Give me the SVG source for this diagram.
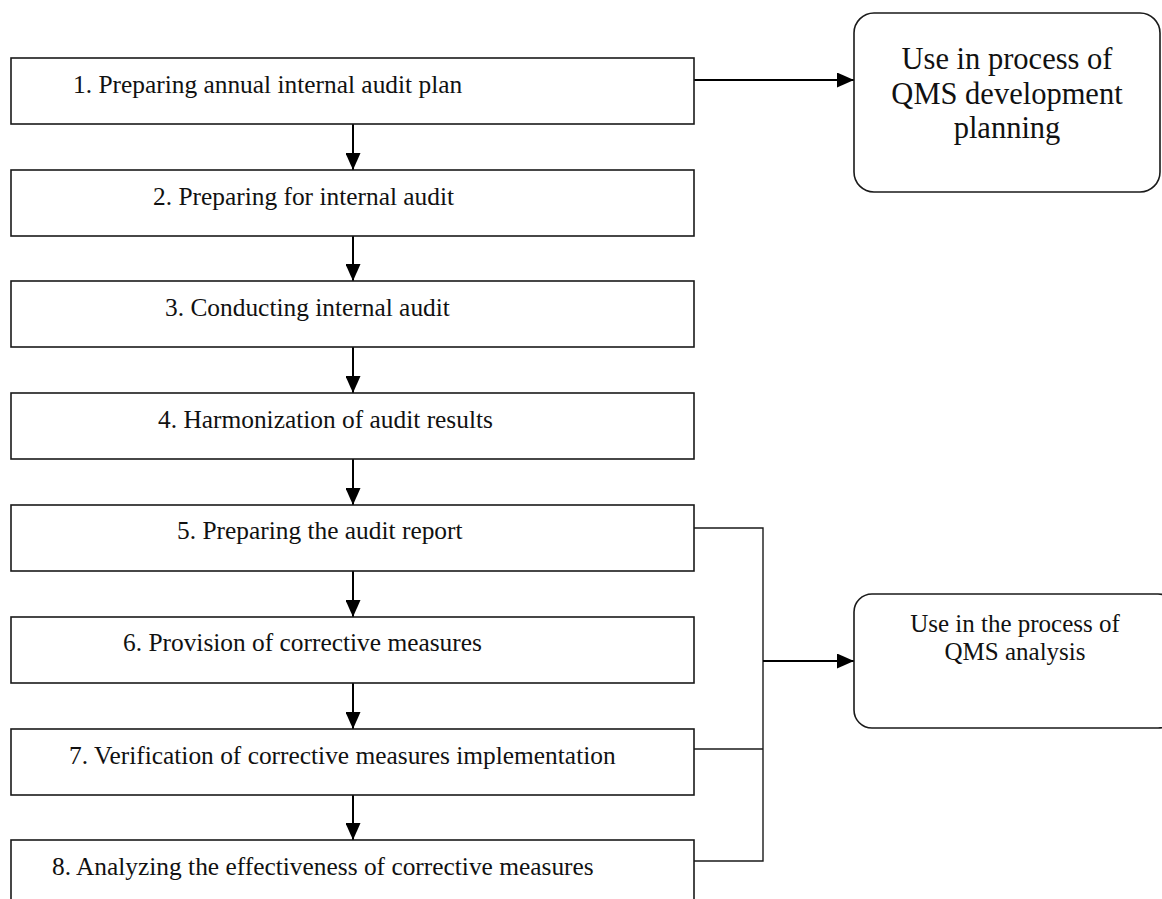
<svg xmlns="http://www.w3.org/2000/svg" width="1162" height="899" viewBox="0 0 1162 899">
<style>
.step{fill:#fff;stroke:#1a1a1a;stroke-width:1.6}
.out{fill:#fff;stroke:#1a1a1a;stroke-width:1.6}
.t{font-family:"Liberation Serif","Times New Roman",serif;font-size:25.4px;fill:#111}
.big{font-family:"Liberation Serif","Times New Roman",serif;font-size:30.5px;fill:#111;text-anchor:middle}
.mid{font-family:"Liberation Serif","Times New Roman",serif;font-size:25px;fill:#111;text-anchor:middle}
.arr{fill:none;stroke:#000;stroke-width:2;marker-end:url(#ah)}
.thin{fill:none;stroke:#1a1a1a;stroke-width:1.4}
</style>
<defs>
<marker id="ah" markerUnits="userSpaceOnUse" markerWidth="17" markerHeight="15" refX="17" refY="7.5" orient="auto">
<path d="M0,0 L17,7.5 L0,15 z" fill="#000"/>
</marker>
</defs>
<rect width="1162" height="899" fill="#fff"/>
<g id="connectors">
<line class="arr" x1="353" y1="124" x2="353" y2="170"/>
<line class="arr" x1="353" y1="236" x2="353" y2="281"/>
<line class="arr" x1="353" y1="347" x2="353" y2="393"/>
<line class="arr" x1="353" y1="459" x2="353" y2="505"/>
<line class="arr" x1="353" y1="571" x2="353" y2="617"/>
<line class="arr" x1="353" y1="683" x2="353" y2="729"/>
<line class="arr" x1="353" y1="795" x2="353" y2="840"/>
<line class="arr" x1="694" y1="80" x2="854" y2="80"/>
<polyline class="thin" points="694,528 763,528 763,861 694,861"/>
<line class="thin" x1="694" y1="749" x2="763" y2="749"/>
<line class="arr" x1="763" y1="661" x2="854" y2="661"/>
</g>
<g id="step1"><rect class="step" x="11" y="58" width="683" height="66"/><text class="t" x="73" y="93">1. Preparing annual internal audit plan</text></g>
<g id="step2"><rect class="step" x="11" y="170" width="683" height="66"/><text class="t" x="153" y="205">2. Preparing for internal audit</text></g>
<g id="step3"><rect class="step" x="11" y="281" width="683" height="66"/><text class="t" x="165" y="316">3. Conducting internal audit</text></g>
<g id="step4"><rect class="step" x="11" y="393" width="683" height="66"/><text class="t" x="158" y="428">4. Harmonization of audit results</text></g>
<g id="step5"><rect class="step" x="11" y="505" width="683" height="66"/><text class="t" x="177" y="539">5. Preparing the audit report</text></g>
<g id="step6"><rect class="step" x="11" y="617" width="683" height="66"/><text class="t" x="123" y="651">6. Provision of corrective measures</text></g>
<g id="step7"><rect class="step" x="11" y="729" width="683" height="66"/><text class="t" x="69" y="764">7. Verification of corrective measures implementation</text></g>
<g id="step8"><rect class="step" x="11" y="840" width="683" height="66"/><text class="t" x="52" y="875">8. Analyzing the effectiveness of corrective measures</text></g>
<g id="planning"><rect class="out" x="854" y="13" width="306" height="179" rx="20" ry="20"/>
<text class="big" x="1007" y="69">Use in process of</text>
<text class="big" x="1007" y="104">QMS development</text>
<text class="big" x="1007" y="138">planning</text></g>
<g id="analysis"><rect class="out" x="854" y="594" width="322" height="134" rx="18" ry="18"/>
<text class="mid" x="1015" y="632">Use in the process of</text>
<text class="mid" x="1015" y="660">QMS analysis</text></g>
</svg>
